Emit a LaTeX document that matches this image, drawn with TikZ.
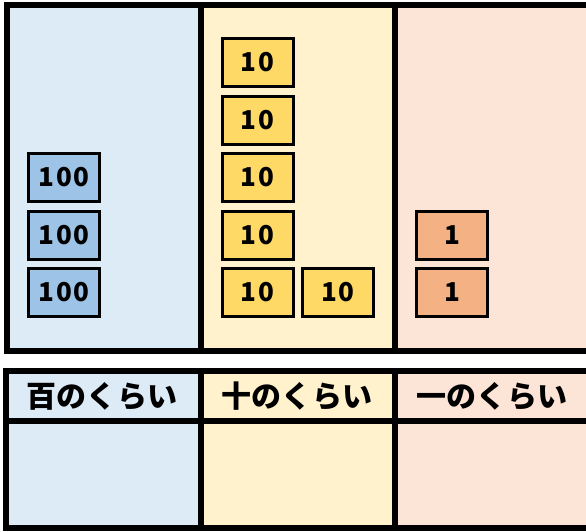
\documentclass[tikz,border=0pt]{standalone}
\usepackage{fontspec}
\setmainfont{Noto Sans CJK JP}
\usetikzlibrary{positioning}
\definecolor{hundredbg}{HTML}{DDEBF7}
\definecolor{tenbg}{HTML}{FFF2CC}
\definecolor{onebg}{HTML}{FCE4D6}
\definecolor{hundredtile}{HTML}{9DC3E6}
\definecolor{tentile}{HTML}{FFD966}
\definecolor{onetile}{HTML}{F4B183}
\begin{document}
\begin{tikzpicture}[x=1pt, y=-1pt, line width=6pt, node distance=6.5pt,
    tile/.style={draw, line width=3pt, minimum width=71pt, minimum height=48pt,
      inner sep=0pt, font=\fontsize{26}{26}\selectfont\bfseries\addfontfeatures{LetterSpace=6}},
    head/.style={font=\fontsize{30}{30}\selectfont\bfseries\addfontfeatures{LetterSpace=1}}]
  \useasboundingbox[fill=white] (0,0) rectangle (586,531);
  % Place value board
  \fill[hundredbg] (7,4.5) rectangle (201,351);
  \fill[tenbg] (201,4.5) rectangle (395,351);
  \fill[onebg] (395,4.5) rectangle (592,351);
  \draw (7,4.5) rectangle (592,351);
  \draw (201,4.5) -- (201,351);
  \draw (395,4.5) -- (395,351);
  % Hundreds
  \node[tile, fill=hundredtile] (h3) at (64,292.5) {100};
  \node[tile, fill=hundredtile, above=of h3] (h2) {100};
  \node[tile, fill=hundredtile, above=of h2] (h1) {100};
  % Tens
  \node[tile, fill=tentile] (t5) at (257.5,292.5) {10};
  \node[tile, fill=tentile, above=of t5] (t4) {10};
  \node[tile, fill=tentile, above=of t4] (t3) {10};
  \node[tile, fill=tentile, above=of t3] (t2) {10};
  \node[tile, fill=tentile, above=of t2] (t1) {10};
  \node[tile, fill=tentile, right=of t5] (t6) {10};
  % Ones
  \node[tile, fill=onetile] (o2) at (452,292.5) {1};
  \node[tile, fill=onetile, above=of o2] (o1) {1};
  % Table
  \fill[hundredbg] (6,371) rectangle (201,528);
  \fill[tenbg] (201,371) rectangle (395,528);
  \fill[onebg] (395,371) rectangle (592,528);
  \draw (6,371) rectangle (592,528);
  \draw (6,421) -- (592,421);
  \draw (201,371) -- (201,528);
  \draw (395,371) -- (395,528);
  \node[head] (hhead) at (102,396) {百のくらい};
  \node[head] (thead) at (297,396) {十のくらい};
  \node[head] (ohead) at (492,396) {一のくらい};
\end{tikzpicture}
\end{document}
